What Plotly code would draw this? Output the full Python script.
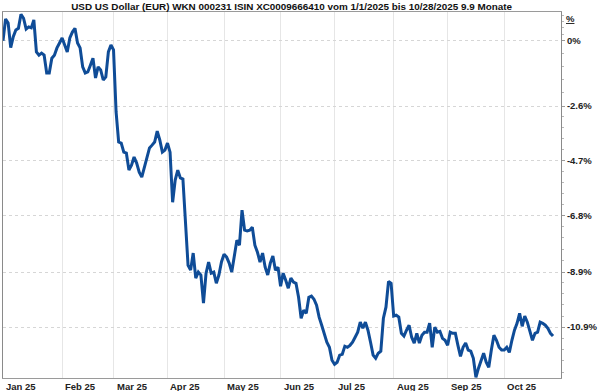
import numpy as np
import pandas as pd
import plotly.graph_objects as go

# ---- data (percent change vs. 1/1/2025, one value per weekday) ----
start_date = "2025-01-01"
end_date = "2025-10-28"
pct_change = [
    0.00, 0.88, 0.72, -0.28, 0.16, 0.43, 0.50, 1.07, 0.91, 0.47,
    0.56, 0.52, 0.84, -0.45, -0.58, -0.50, -0.58, -1.29, -1.29, -0.70,
    -0.58, -0.29, -0.09, 0.11, -0.17, -0.45, 0.11, 0.35, 0.50, -0.09,
    -0.29, -1.05, -1.29, -1.25, -0.98, -0.70, -1.49, -1.05, -1.17, -1.57,
    -1.45, -0.45, -0.17, -0.37, -2.83, -4.00, -4.04, -4.39, -4.43, -5.08,
    -4.89, -4.58, -4.81, -5.16, -5.35, -5.00, -4.62, -4.23, -4.12, -4.00,
    -3.58, -3.92, -4.39, -4.31, -4.04, -4.39, -6.30, -5.46, -5.08, -5.38,
    -5.42, -7.16, -8.65, -8.83, -8.20, -9.12, -8.90, -9.01, -10.03, -8.94,
    -8.53, -8.94, -8.90, -9.31, -9.01, -8.53, -8.24, -8.35, -8.57, -8.90,
    -8.31, -7.72, -7.91, -6.60, -7.35, -7.38, -7.35, -7.24, -7.91, -8.17,
    -8.53, -8.20, -8.72, -9.01, -8.57, -8.31, -8.83, -8.72, -9.42, -8.94,
    -9.20, -9.49, -9.12, -9.27, -9.31, -9.82, -10.58, -10.29, -10.40, -9.82,
    -9.78, -9.89, -10.11, -10.54, -10.83, -11.12, -11.44, -11.62, -12.08, -12.22,
    -12.15, -11.90, -11.87, -11.58, -11.62, -11.55, -11.44, -11.26, -11.08, -10.72,
    -10.94, -10.72, -11.01, -11.44, -11.90, -12.01, -11.83, -11.76, -10.58, -10.18,
    -9.24, -9.31, -10.50, -10.47, -10.54, -11.12, -11.22, -11.01, -10.83, -11.26,
    -11.47, -11.12, -11.47, -11.19, -11.08, -11.08, -10.76, -11.62, -10.90, -11.08,
    -11.05, -11.30, -11.37, -11.55, -11.08, -11.12, -11.12, -11.55, -11.94, -11.62,
    -11.47, -11.72, -11.76, -12.01, -12.68, -12.36, -12.08, -11.83, -12.15, -12.33,
    -11.72, -11.19, -11.37, -11.62, -11.72, -11.72, -11.62, -11.80, -11.37, -11.01,
    -10.76, -10.40, -10.87, -10.50, -10.72, -11.01, -11.37, -11.12, -11.08, -10.72,
    -10.76, -10.83, -10.94, -11.12, -11.22,
]

y_tick_pct = [0, -2.6, -4.7, -6.8, -8.9, -10.9]
y_tick_labels = ["0%", "-2.6%", "-4.7%", "-6.8%", "-8.9%", "-10.9%"]

month_ticks = ["2025-01-01", "2025-02-03", "2025-03-03", "2025-04-01", "2025-05-01",
               "2025-06-02", "2025-07-01", "2025-08-01", "2025-09-01", "2025-10-01"]
month_labels = ["Jan 25", "Feb 25", "Mar 25", "Apr 25", "May 25",
                "Jun 25", "Jul 25", "Aug 25", "Sep 25", "Oct 25"]

title_text = "USD US Dollar (EUR) WKN 000231 ISIN XC0009666410 vom 1/1/2025 bis 10/28/2025 9.9 Monate"

dates = pd.bdate_range(start_date, end_date)
assert len(dates) == len(pct_change)
index_level = [100 + v for v in pct_change]
tickvals = [100 + v for v in y_tick_pct]

# minor ticks: 5 subdivisions between majors
minor_vals = []
ext = [100 + 1.3] + tickvals + [100 - 12.9]
for a, b in zip(ext[:-1], ext[1:]):
    for k in range(1, 5):
        minor_vals.append(a + (b - a) * k / 5)

LINE = "#0f4c97"
FONT = "Liberation Sans, Arial, sans-serif"

fig = go.Figure()
fig.add_trace(go.Scatter(
    x=dates, y=index_level, mode="lines",
    line=dict(color=LINE, width=3, shape="linear"),
    hoverinfo="skip", showlegend=False,
))

fig.update_layout(
    width=600, height=391,
    margin=dict(l=2, r=33, t=12, b=13),
    paper_bgcolor="white", plot_bgcolor="white",
    font=dict(family=FONT, size=10, color="#222"),
    title=dict(text="<b>" + title_text + "</b>", xref="container", x=0.486,
               xanchor="center", yref="container", y=0.983, yanchor="middle",
               font=dict(family=FONT, size=9.9, color="#111")),
    showlegend=False,
)

fig.update_xaxes(
    type="date",
    range=["2025-01-01", "2025-10-31 02:30"],
    rangebreaks=[dict(bounds=["sat", "mon"])],
    tickmode="array", tickvals=month_ticks, showticklabels=False,
    showgrid=True, gridcolor="#e6e6e6", gridwidth=1,
    showline=True, linecolor="#9a9a9a", linewidth=1, mirror=True,
    ticks="", zeroline=False,
)

fig.update_yaxes(
    type="log", side="right",
    range=[1.94098, 2.005026],
    tickmode="array", tickvals=tickvals, ticktext=["<b>%s</b>" % t for t in y_tick_labels],
    tickfont=dict(family=FONT, size=9.5, color="#222"),
    ticks="outside", ticklen=3, tickcolor="#9a9a9a",
    minor=dict(tickmode="array", tickvals=minor_vals, ticks="outside", ticklen=2,
               tickcolor="#b8b8b8", showgrid=False),
    showgrid=True, gridcolor="#d6d6d6", griddash="dot", gridwidth=1,
    showline=True, linecolor="#8a8a8a", linewidth=1, mirror=True,
    zeroline=False,
)

annotations = []
for d, lab in zip(month_ticks, month_labels):
    annotations.append(dict(
        x=d, xref="x", y=0, yref="paper", yanchor="top", xanchor="left",
        xshift=1, yshift=-1, showarrow=False,
        text="<b>%s</b>" % lab, font=dict(family=FONT, size=9.5, color="#222"),
    ))
annotations.append(dict(
    x=1, xref="paper", y=1, yref="paper", xanchor="left", yanchor="middle",
    xshift=3, yshift=-6, showarrow=False,
    text="<b><u>%</u></b>", font=dict(family=FONT, size=9.5, color="#222"),
))
fig.update_layout(annotations=annotations)

fig.write_html("out.html")
